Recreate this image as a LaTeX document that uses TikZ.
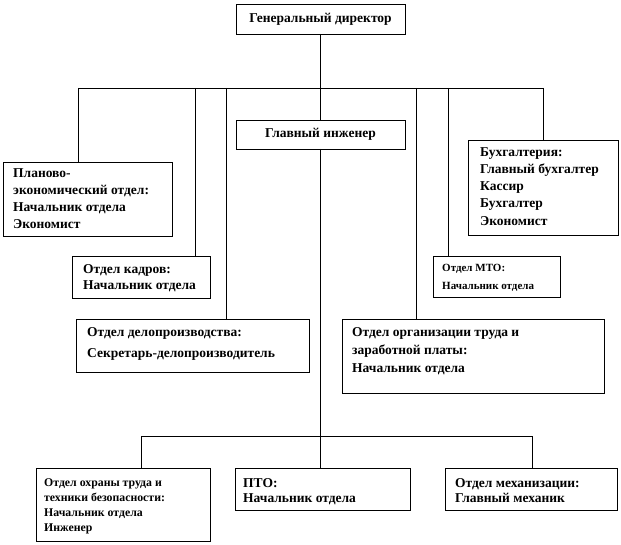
\documentclass[tikz,border=0pt]{standalone}
\usepackage{fontspec}
\setmainfont{Liberation Serif}
\newcommand\mainf{\fontsize{13.5}{17}\selectfont\bfseries}
\newcommand\smallf{\fontsize{11}{18}\selectfont\bfseries}
\begin{document}
\begin{tikzpicture}[x=1pt,y=-1pt,
  box/.style={draw, line width=0.9pt, anchor=north west, inner sep=0pt, outer sep=0pt},
  txt/.style={anchor=north west, inner sep=0pt, align=left},
  conn/.style={line width=0.9pt}]
\fill[white] (0,0) rectangle (621,545);
\useasboundingbox (0,0) rectangle (621,545);
% boxes
\node[box, minimum width=169pt, minimum height=30pt, font=\mainf] (gd) at (236,4) {Генеральный директор};
\node[box, minimum width=169pt, minimum height=29pt, font=\mainf] (ge) at (236,120) {Главный инженер};
\node[box, minimum width=169pt, minimum height=74pt] (plan) at (3,162) {};
\node[box, minimum width=138pt, minimum height=42pt] (kad) at (72,256) {};
\node[box, minimum width=233pt, minimum height=53pt] (delo) at (76,319) {};
\node[box, minimum width=262pt, minimum height=74pt] (org) at (342,319) {};
\node[box, minimum width=127pt, minimum height=41pt] (mto) at (433,256) {};
\node[box, minimum width=150pt, minimum height=95pt] (buh) at (468,140) {};
\node[box, minimum width=174pt, minimum height=73pt] (ohr) at (36,468) {};
\node[box, minimum width=175pt, minimum height=42pt] (pto) at (235,468) {};
\node[box, minimum width=172pt, minimum height=42pt] (mech) at (445,468) {};
% texts
\node[txt, font=\fontsize{13.5}{17.3}\selectfont\bfseries] (tplan) at (13,168) {Планово-\\экономический отдел:\\Начальник отдела\\Экономист};
\node[txt, font=\fontsize{13.5}{16}\selectfont\bfseries] (tkad) at (83,264) {Отдел кадров:\\Начальник отдела};
\node[txt, font=\fontsize{13.5}{21}\selectfont\bfseries] (tdelo) at (87,327) {Отдел делопроизводства:\\Секретарь-делопроизводитель};
\node[txt, font=\fontsize{13.5}{18}\selectfont\bfseries] (torg) at (352,327) {Отдел организации труда и\\заработной платы:\\Начальник отдела};
\node[txt, font=\fontsize{13.5}{17.3}\selectfont\bfseries] (tbuh) at (480,147) {Бухгалтерия:\\Главный бухгалтер\\Кассир\\Бухгалтер\\Экономист};
\node[txt, font=\smallf] (tmto) at (442,264) {Отдел МТО:\\Начальник отдела};
\node[txt, font=\fontsize{11.8}{15}\selectfont\bfseries] (tohr) at (44,478) {Отдел охраны труда и\\техники безопасности:\\Начальник отдела\\Инженер};
\node[txt, font=\fontsize{13.5}{15}\selectfont\bfseries] (tpto) at (243,478) {ПТО:\\Начальник отдела};
\node[txt, font=\fontsize{13.5}{15}\selectfont\bfseries] (tmech) at (455,478) {Отдел механизации:\\Главный механик};
% upper bus
\coordinate (d1) at (78,88);
\coordinate (d2) at (195,88);
\coordinate (d3) at (226,88);
\coordinate (d4) at (416,88);
\coordinate (d5) at (448,88);
\coordinate (d6) at (543,88);
\draw[conn] (d1) -- (d6);
\draw[conn] (gd.south) -- (ge.north);
\draw[conn] (d1) -- (d1 |- plan.north);
\draw[conn] (d2) -- (d2 |- kad.north);
\draw[conn] (d3) -- (d3 |- delo.north);
\draw[conn] (d4) -- (d4 |- org.north);
\draw[conn] (d5) -- (d5 |- mto.north);
\draw[conn] (d6) -- (d6 |- buh.north);
% lower bus
\coordinate (e1) at (141,436);
\coordinate (e3) at (532,436);
\draw[conn] (e1) -- (e3);
\draw[conn] (ge.south) -- (ge.south |- e1);
\draw[conn] (ge.south |- e1) -- (ge.south |- pto.north);
\draw[conn] (e1) -- (e1 |- ohr.north);
\draw[conn] (e3) -- (e3 |- mech.north);
\end{tikzpicture}
\end{document}
